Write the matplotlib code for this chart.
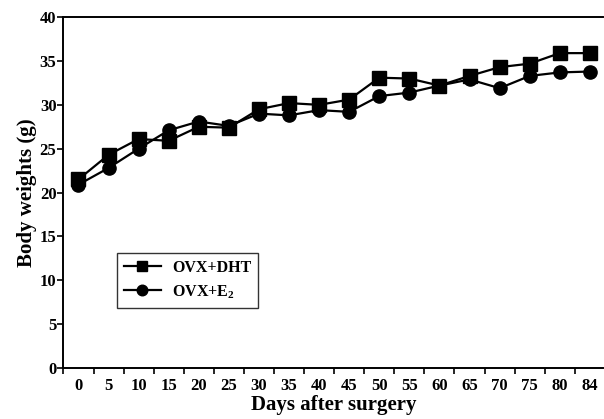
import numpy as np
import matplotlib.pyplot as plt

plt.rcParams['font.family'] = ['Liberation Serif', 'DejaVu Serif']
plt.rcParams['font.weight'] = 'bold'
plt.rcParams['mathtext.fontset'] = 'custom'
plt.rcParams['mathtext.bf'] = 'Liberation Serif:bold'
plt.rcParams['mathtext.rm'] = 'Liberation Serif:bold'

# days after surgery (ticks are evenly spaced, 84 included)
days = ['0', '5', '10', '15', '20', '25', '30', '35', '40', '45',
        '50', '55', '60', '65', '70', '75', '80', '84']
dht = [21.5, 24.3, 26.1, 25.9, 27.5, 27.4, 29.5, 30.2, 30.0, 30.6,
       33.1, 33.0, 32.2, 33.3, 34.3, 34.7, 35.9, 35.9]
e2 = [20.9, 22.8, 25.0, 27.1, 28.1, 27.6, 29.0, 28.8, 29.4, 29.2,
      31.0, 31.4, 32.2, 32.9, 31.9, 33.3, 33.7, 33.8]

x = np.arange(len(days))

fig = plt.figure(figsize=(6.04, 4.19), dpi=100)
ax = fig.add_axes([0.105, 0.122, 0.894, 0.837])

ax.plot(x, dht, color='black', lw=1.6, marker='s', ms=9.5,
        label='OVX+DHT')
ax.plot(x, e2, color='black', lw=1.6, marker='o', ms=9.5,
        label=r'OVX+E$_\mathbf{2}$')

ax.set_xlim(-0.5, 17.45)
ax.set_ylim(0, 40)
ax.set_yticks(np.arange(0, 41, 5))
ax.set_xticks(x)
ax.set_xticklabels(days)
ax.set_xticks(np.arange(-0.5, 17, 1.0), minor=True)
ax.tick_params(axis='x', which='major', length=0, pad=7, labelsize=12)
ax.tick_params(axis='x', which='minor', length=4, width=1.2, direction='out')
ax.tick_params(axis='y', length=4, width=1.2, direction='out', labelsize=12, pad=1)
for lab in ax.get_xticklabels() + ax.get_yticklabels():
    lab.set_fontweight('bold')

ax.spines['right'].set_visible(False)
for s in ['left', 'bottom', 'top']:
    ax.spines[s].set_linewidth(1.4)

ax.set_xlabel('Days after surgery', fontsize=15, fontweight='bold', labelpad=1)
ax.set_ylabel('Body weights (g)', fontsize=15, fontweight='bold', labelpad=2)

leg = ax.legend(loc='lower left', bbox_to_anchor=(0.099, 0.171),
                borderaxespad=0, frameon=True, fancybox=False,
                edgecolor='black', fontsize=11.5, handlelength=2.3,
                markerscale=0.8, borderpad=0.45, labelspacing=0.45,
                handletextpad=0.7)
leg.get_frame().set_linewidth(1.0)
for t in leg.get_texts():
    t.set_fontweight('bold')

fig.savefig('out.png', dpi=100)
